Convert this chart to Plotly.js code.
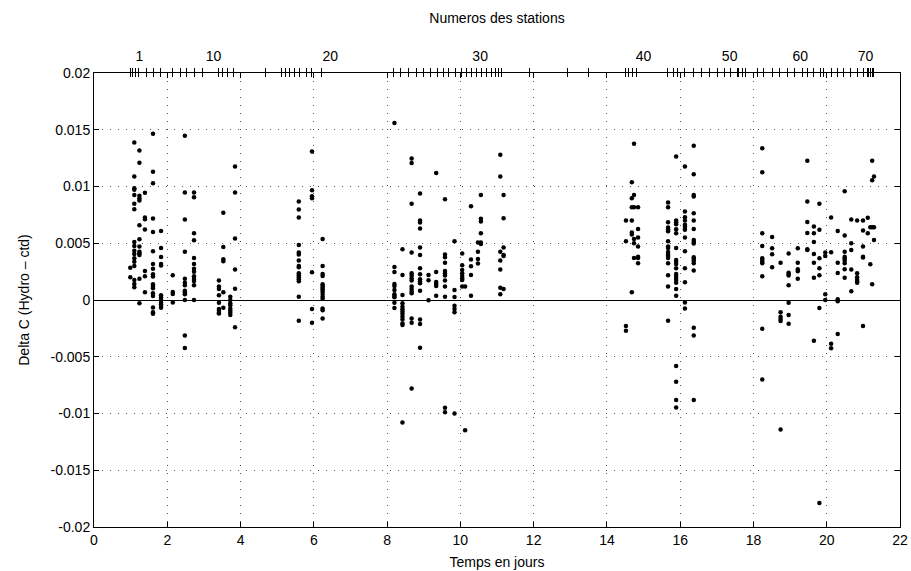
<!DOCTYPE html>
<html><head><meta charset="utf-8">
<script src="https://cdn.plot.ly/plotly-3.0.1.min.js"></script>
<style>html,body{margin:0;padding:0;background:#fff}#chart{width:911px;height:571px}</style>
</head><body><div id="chart"></div>
<script>
// Station times (days) shown as ticks on the top axis
const stationTimes = [0.986,1.060,1.131,1.212,1.423,1.622,1.805,2.152,2.351,2.534,2.734,2.971,3.408,3.498,3.643,3.807,4.672,5.109,5.227,5.347,5.464,5.601,5.792,5.948,6.202,
8.176,8.378,8.586,8.796,8.995,9.197,9.377,9.541,9.678,9.861,10.044,10.161,10.317,10.453,10.590,10.726,10.863,10.953,11.043,11.136,
11.890,12.927,13.501,14.503,14.593,14.686,14.803,
15.664,15.814,15.923,16.128,16.360,16.578,16.797,17.007,17.206,17.384,17.553,17.597,17.690,17.780,
18.099,18.280,18.509,18.717,18.919,19.118,19.328,19.481,19.645,19.828,19.918,20.120,20.284,20.464,20.647,20.830,20.994,21.103,21.147,21.193,21.240,21.284];
const topLabelPos = [1.24,3.26,6.45,10.54,15.00,17.35,19.28,21.06];
const topLabels = ['1','10','20','30','40','50','60','70'];

const xTicks = [0,2,4,6,8,10,12,14,16,18,20,22];
const yTicks = [-0.02,-0.015,-0.01,-0.005,0,0.005,0.01,0.015,0.02];
const yTickText = ['-0.02','-0.015','-0.01','-0.005','0','0.005','0.01','0.015','0.02'];

// Each profile: time (days) and its Delta C values
const colTime = [0.99,1.10,1.24,1.39,1.61,1.83,2.15,2.48,2.73,3.41,3.53,3.72,3.85,5.59,5.95,6.24,
8.20,8.42,8.67,8.90,9.13,9.34,9.58,9.84,10.05,10.13,10.29,10.48,10.56,11.09,11.18,
14.52,14.68,14.74,14.85,15.67,15.89,16.13,16.37,
18.24,18.51,18.74,18.96,19.21,19.47,19.65,19.80,19.96,20.12,20.30,20.49,20.67,20.83,20.99,21.12,21.19,21.24,21.29];
const colDelta = [
[0.00285,0.0020],
[0.01388,0.01088,0.00985,0.00971,0.00926,0.00847,0.0080,0.00512,0.00476,0.00435,0.00406,0.00368,0.00338,0.0030,0.00176,0.00141,0.00112],
[0.01318,0.01209,0.00918,0.00897,0.00876,0.00659,0.00535,0.00471,0.00426,0.00412,0.00397,0.00188,-0.00029],
[0.00944,0.00726,0.00712,0.00621,0.00256,0.00209,0.00068],
[0.01465,0.01129,0.01029,0.00718,0.0060,0.00429,0.00318,0.00276,0.00226,0.00206,0.00138,0.00118,0.00103,0.00059,0.00035,-0.00065,-0.00109,-0.00121],
[0.00609,0.00459,0.00379,0.00318,0.00303,0.00041,0.00024,0,-0.00024,-0.00038,-0.00053,-0.00068],
[0.00218,0.00071,0.00053,-0.00021],
[0.01447,0.00947,0.00709,0.00426,0.00188,0.00153,0.00129,0.00082,0.00068,0.0005,0,-0.00312,-0.00424],
[0.00947,0.00906,0.00588,0.00526,0.00371,0.00318,0.00276,0.0025,0.00209,0.00185,0.00168,0.00129,0],
[0.00171,0.00118,0.00097,0.00041,-0.00024,-0.00079,-0.00094,-0.00112,-0.00118],
[0.00768,0.00468,0.00359,0.00341,0.00068,-0.00068],
[0.00029,0,-0.00029,-0.00047,-0.00076,-0.00094,-0.00112,-0.00132],
[0.01176,0.00947,0.00541,0.00268,0.0010,-0.00241],
[0.00868,0.00797,0.00726,0.00485,0.00418,0.0040,0.00347,0.0030,0.00288,0.00235,0.00218,0.0020,0.00182,0.00165,0.00029,-0.00182],
[0.01309,0.00968,0.00915,0.00897,0.00244,-0.00079,-0.0020],
[0.00538,0.0030,0.00229,0.00212,0.00138,0.00124,0.00109,0.00094,0.00074,0.00053,0.00029,0.00012,-0.00074,-0.00091,-0.00162],
[0.01559,0.00291,0.00247,0.00141,0.00124,0.00088,0.0005,0.00035,0.00024,-0.00024,-0.00071],
[0.00447,0.00221,0.00044,-0.00029,-0.00059,-0.00082,-0.00103,-0.00124,-0.00147,-0.00171,-0.00206,-0.00221,-0.01079],
[0.01247,0.01206,0.00847,0.00418,0.00235,0.00215,0.00191,0.00171,0.00118,0.00097,0.00074,0.00059,-0.00162,-0.0020,-0.00779],
[0.00938,0.0070,0.00682,0.00629,0.00462,0.00397,0.00279,0.00226,0.00182,0.00162,0.00147,0.00082,-0.00171,-0.00212,-0.00421],
[0.00221,0.00174,-0.00003],
[0.01118,0.00247,0.00159,0.00141,0.00124,0.00038],
[0.00888,0.0040,0.00376,0.00329,0.00256,0.00235,0.00215,0.00171,0.00118,0.00029,-0.0095,-0.00988],
[0.00518,0.00088,0.00026,-0.0005,-0.00079,-0.00109,-0.0100],
[0.00409,0.00306,0.00265,0.00235,0.00212,0.00191,0.00176,0.00118],
[0.00118,-0.01147],
[0.00826,0.00356,0.00297,0.00221,0.00038],
[0.00506,0.00426,0.00362,0.00321],
[0.00926,0.00715,0.00691,0.00588,0.00506,0.00494],
[0.01279,0.01088,0.00426,0.00347,0.00268,0.00109,0.0005],
[0.00926,0.00721,0.00462,0.00397,0.00388,0.00097],
[0.0070,0.00518,-0.00229,-0.00271],
[0.01038,0.00897,0.00818,0.0070,0.00594,0.00576,0.00068],
[0.01376,0.00926,0.00818,0.00538,0.0050,0.00371],
[0.00818,0.00626,0.0055,0.00471,0.00382,0.00371,0.00324],
[0.00859,0.00818,0.00685,0.00638,0.00624,0.00606,0.00518,0.00471,0.00459,0.00424,0.00406,0.00388,0.00371,0.00324,0.00218,0.00118,-0.00182],
[0.01265,0.0070,0.00685,0.00668,0.00624,0.00588,0.00459,0.00353,0.00335,0.00318,0.00279,0.00229,0.00212,0.00194,0.00176,0.00153,0.00097,0.00038,-0.00582,-0.00721,-0.00882,-0.00947],
[0.01176,0.00779,0.00729,0.0070,0.00662,0.00647,0.00626,0.00618,0.0055,0.00429,0.00279,0.00156,-0.00021,-0.00074],
[0.01359,0.01109,0.00926,0.00912,0.00765,0.0070,0.00626,0.00529,0.00512,0.00497,0.00376,0.00362,0.00344,0.00324,0.00259,-0.00244,-0.00312,-0.00882],
[0.01338,0.01126,0.00588,0.00476,0.00368,0.00353,0.00338,0.00324,0.00209,-0.00253,-0.0070],
[0.00556,0.00456,0.00403,0.00288],
[0.00329,-0.00109,-0.00147,-0.00168,-0.00185,-0.01141],
[0.00409,0.00241,0.00229,0.00215,0.00129,-0.00024,-0.00132,-0.00209],
[0.00456,0.00329,0.00271,0.00253,0.00188],
[0.01226,0.00868,0.00688,0.00591,0.00447,0.00441],
[0.00647,0.00588,0.00512,0.00406,0.00329,0.00197,-0.00359],
[0.00847,0.00618,0.00368,0.00279,0.00218,-0.00071,-0.01788],
[0.00418,0.00388,0.0005,0],
[0.00726,0.00421,-0.00385,-0.00426],
[0.00609,0.00329,0.00238,0.00006,-0.00012,-0.0030],
[0.00959,0.00568,0.00426,0.00382,0.00368,0.00347,0.00324,0.00271,0.00197],
[0.00709,0.0050,0.00441,0.00268,0.00076],
[0.0070,0.00235,0.0020,0.00176,0.00162,0.00153],
[0.0070,0.00612,0.00471,0.00382,0.00374,-0.00229],
[0.00724,0.00588],
[0.00641,0.00315],
[0.01226,0.01056,0.00641,0.00138],
[0.01088,0.00641,0.00529]
];

const xs = [], ys = [];
colTime.forEach((t, i) => colDelta[i].forEach(v => { xs.push(t); ys.push(v); }));

const font = {family: 'Liberation Sans, Arial, sans-serif', size: 14, color: '#000'};
const gridDash = '1px,7px';

const traces = [
  {type: 'scatter', mode: 'markers', x: xs, y: ys, marker: {color: '#000', size: 4.5},
   hoverinfo: 'skip', showlegend: false},
  {type: 'scatter', mode: 'markers', x: [], y: [], xaxis: 'x2', showlegend: false},
  {type: 'scatter', mode: 'markers', x: [], y: [], xaxis: 'x3', showlegend: false},
  {type: 'scatter', mode: 'markers', x: [], y: [], xaxis: 'x4', showlegend: false}
];

const topBase = {overlaying: 'x', side: 'top', anchor: 'y', range: [0, 22],
  showgrid: false, zeroline: false, showline: false, fixedrange: true};

const layout = {
  width: 911, height: 571,
  margin: {l: 94, r: 11, t: 73, b: 44},
  paper_bgcolor: '#fff', plot_bgcolor: '#fff',
  font: font, showlegend: false,
  title: {text: 'Numeros des stations', font: font, xref: 'paper', x: 0.5, xanchor: 'center',
          yref: 'container', y: 1 - 18/571, yanchor: 'middle'},
  xaxis: {range: [0, 22], tickvals: xTicks, ticks: 'inside', ticklen: 5, tickcolor: '#000',
    showline: true, linecolor: '#000', linewidth: 1, mirror: 'ticks',
    showgrid: true, gridcolor: '#555', griddash: gridDash, gridwidth: 1, zeroline: false,
    tickfont: font, title: {text: 'Temps en jours', font: font, standoff: 10}},
  yaxis: {range: [-0.02, 0.02], tickvals: yTicks, ticktext: yTickText, ticks: 'inside', ticklen: 5,
    tickcolor: '#000', showline: true, linecolor: '#000', linewidth: 1, mirror: 'ticks',
    showgrid: true, gridcolor: '#555', griddash: gridDash, gridwidth: 1,
    zeroline: true, zerolinecolor: '#000', zerolinewidth: 1,
    tickfont: font, title: {text: 'Delta C (Hydro \u2013 ctd)', font: font, standoff: 17}},
  xaxis2: Object.assign({}, topBase, {tickvals: stationTimes, ticks: 'outside', ticklen: 4,
    tickcolor: '#000', tickwidth: 1, showticklabels: false}),
  xaxis3: Object.assign({}, topBase, {tickvals: stationTimes, ticks: 'inside', ticklen: 4,
    tickcolor: '#000', tickwidth: 1, showticklabels: false}),
  xaxis4: Object.assign({}, topBase, {tickvals: topLabelPos, ticktext: topLabels, ticks: 'outside',
    ticklen: 5, tickcolor: 'rgba(0,0,0,0)', showticklabels: true, tickfont: font})
};

Plotly.newPlot('chart', traces, layout, {staticPlot: true, displayModeBar: false});
</script>
</body></html>
